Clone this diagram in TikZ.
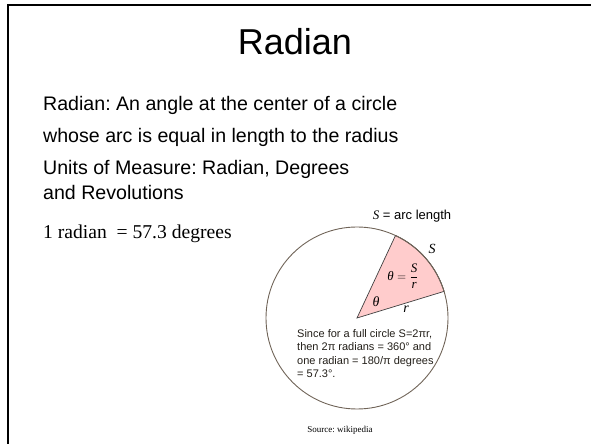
\documentclass[tikz,border=0pt]{standalone}
\usepackage{amsmath}
\usepackage{fontspec}
\setmainfont{Liberation Sans}
\newfontfamily\tms{Liberation Serif}
\usetikzlibrary{positioning,calc}
\definecolor{wedge}{RGB}{255,204,204}
\definecolor{rim}{RGB}{112,100,88}
\definecolor{ink}{RGB}{35,31,25}
\newcommand{\iv}[1]{\text{\tms\itshape #1}}
\frenchspacing

\begin{document}
\begin{tikzpicture}[x=1pt, y=1pt,
  body/.style={anchor=west, inner sep=0pt, font=\fontsize{19.6}{23}\selectfont},
  lbl/.style={inner sep=0pt, font=\tms\itshape\fontsize{14}{16}\selectfont},
  note/.style={anchor=north west, inner sep=0pt, align=left, text=ink,
    font=\fontsize{11}{13.5}\selectfont}]
\useasboundingbox (0,0) rectangle (591,444);
% slide frame
\coordinate (tl) at (8,439);
\draw[line width=2.5pt] (591,439) -- (tl) -- (8,0);
\node[font=\fontsize{36}{40}\selectfont] (title) at (295,402) {Radian};
\node[body] (def1) at (43,339) {Radian: An angle at the center of a circle};
\node[body] (def2) at (43,307) {whose arc is equal in length to the radius};
\node[body] (units) at (43,275) {Units of Measure: Radian, Degrees};
\node[body] (units2) at (43,252) {and Revolutions};
\node[body, font=\tms\fontsize{19.6}{23}\selectfont] (conv) at (43,210) {1 radian\ \ = 57.3 degrees};
% circle and wedge
\coordinate (O) at (357,126);
\draw[rim, line width=0.9pt] (O) circle[radius=91];
\draw[fill=wedge, draw=black!75, line width=0.7pt] (O) -- ($(O)+(17:91)$) arc[start angle=17, end angle=65, radius=91] -- cycle;
\draw[rim, line width=0.9pt] ($(O)+(17:91)$) arc[start angle=17, end angle=65, radius=91];
\node[lbl] (arcS) at (432,195) {S};
\node[lbl, font=\fontsize{13}{15}\selectfont] (ratio) at (403,168) {$\iv{θ} = \dfrac{\iv{S}}{\iv{r}}$};
\node[lbl] (ang) at (376,142) {θ};
\node[lbl] (rad) at (406,135) {r};
\node[inner sep=0pt, font=\fontsize{13}{15}\selectfont] (key) at (412,228) {{\tms\itshape S} = arc length};
\node[note] (why) at (297,115) {Since for a full circle S=2πr,\\then 2π radians = 360° and\\one radian = 180/π degrees\\= 57.3°.};
\node[font=\tms\fontsize{9}{11}\selectfont] (src) at (340,14) {Source: wikipedia};
\end{tikzpicture}
\end{document}
